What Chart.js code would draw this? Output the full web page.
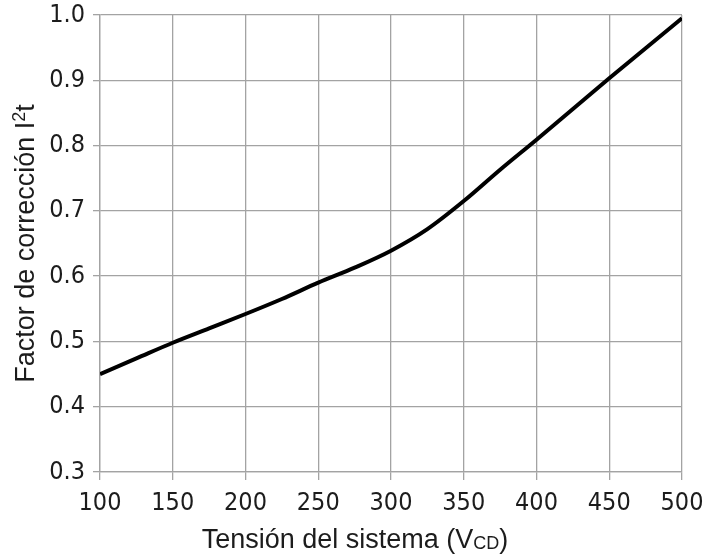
<!DOCTYPE html>
<html>
<head>
<meta charset="utf-8">
<script src="https://cdn.jsdelivr.net/npm/chart.js@4/dist/chart.umd.min.js"></script>
<style>
  html, body { margin: 0; padding: 0; background: #fff; }
  #wrap { width: 719px; height: 557px; }
</style>
</head>
<body>
<div id="wrap"><canvas id="c" width="719" height="557"></canvas></div>
<script>
// values
const voltages = [100, 125, 150, 175, 200, 225, 250, 275, 300, 325, 350, 375, 400, 425, 450, 475, 500];
const factors  = [0.450, 0.474, 0.498, 0.520, 0.542, 0.565, 0.590, 0.613, 0.639, 0.672, 0.715, 0.763, 0.809, 0.856, 0.903, 0.949, 0.995];

const xTitle = { text: 'Tensión del sistema (V', sub: 'CD', after: ')' };
const yTitle = { text: 'Factor de corrección I', sup: '2', after: 't' };

const FONT = '"Liberation Sans", Arial, sans-serif';
const TICK_FONT = '"Liberation Sans Narrow", "DejaVu Sans Condensed", "Liberation Sans", sans-serif';
const GRID = '#a3a3a3';
const TEXT = '#1c1c1c';

// draws the axis titles so sub/superscripts come out right
const titlesPlugin = {
  id: 'titles',
  afterDraw(chart) {
    const ctx = chart.ctx;
    const area = chart.chartArea;
    const big = '27px ' + FONT;
    const small = '18px ' + FONT;
    ctx.save();
    ctx.fillStyle = TEXT;
    ctx.textBaseline = 'alphabetic';
    ctx.textAlign = 'left';

    // x title
    ctx.font = big;
    let w1 = ctx.measureText(xTitle.text).width;
    let w3 = ctx.measureText(xTitle.after).width;
    ctx.font = small;
    let w2 = ctx.measureText(xTitle.sub).width;
    let x = 355 - (w1 + w2 + w3) / 2;
    let y = 548;
    ctx.font = big;
    ctx.fillText(xTitle.text, x, y);
    ctx.font = small;
    ctx.fillText(xTitle.sub, x + w1, y + 1);
    ctx.font = big;
    ctx.fillText(xTitle.after, x + w1 + w2, y);

    // y title, rotated
    ctx.translate(34, (area.top + area.bottom) / 2);
    ctx.rotate(-Math.PI / 2);
    ctx.font = big;
    w1 = ctx.measureText(yTitle.text).width;
    w3 = ctx.measureText(yTitle.after).width;
    ctx.font = small;
    w2 = ctx.measureText(yTitle.sup).width;
    x = -(w1 + w2 + w3) / 2;
    ctx.font = big;
    ctx.fillText(yTitle.text, x, 0);
    ctx.font = small;
    ctx.fillText(yTitle.sup, x + w1, -9);
    ctx.font = big;
    ctx.fillText(yTitle.after, x + w1 + w2, 0);
    ctx.restore();
  }
};

new Chart(document.getElementById('c').getContext('2d'), {
  type: 'line',
  data: {
    datasets: [{
      data: voltages.map((v, i) => ({ x: v, y: factors[i] })),
      borderColor: '#000',
      borderWidth: 4,
      pointRadius: 0,
      cubicInterpolationMode: 'monotone',
      fill: false
    }]
  },
  options: {
    responsive: false,
    animation: false,
    layout: { padding: { top: 15, right: 37, left: 0, bottom: 0 } },
    scales: {
      x: {
        type: 'linear',
        min: 100,
        max: 500,
        afterFit: s => { s.height = 85; s.paddingLeft = 0; s.paddingRight = 0; },
        ticks: { stepSize: 50, color: TEXT, font: { family: TICK_FONT, size: 25 }, padding: 8, maxRotation: 0 },
        grid: { color: GRID, lineWidth: 1.3, tickLength: 8 },
        border: { color: GRID, width: 1.3 }
      },
      y: {
        min: 0.3,
        max: 1.0,
        afterFit: s => { s.width = 100; s.paddingTop = 0; s.paddingBottom = 0; },
        ticks: { stepSize: 0.1, color: TEXT, font: { family: TICK_FONT, size: 25 }, padding: 8, callback: v => v.toFixed(1) },
        grid: { color: GRID, lineWidth: 1.3, tickLength: 7 },
        border: { color: GRID, width: 1.3 }
      }
    },
    plugins: { legend: { display: false }, tooltip: { enabled: false } }
  },
  plugins: [titlesPlugin]
});
</script>
</body>
</html>
